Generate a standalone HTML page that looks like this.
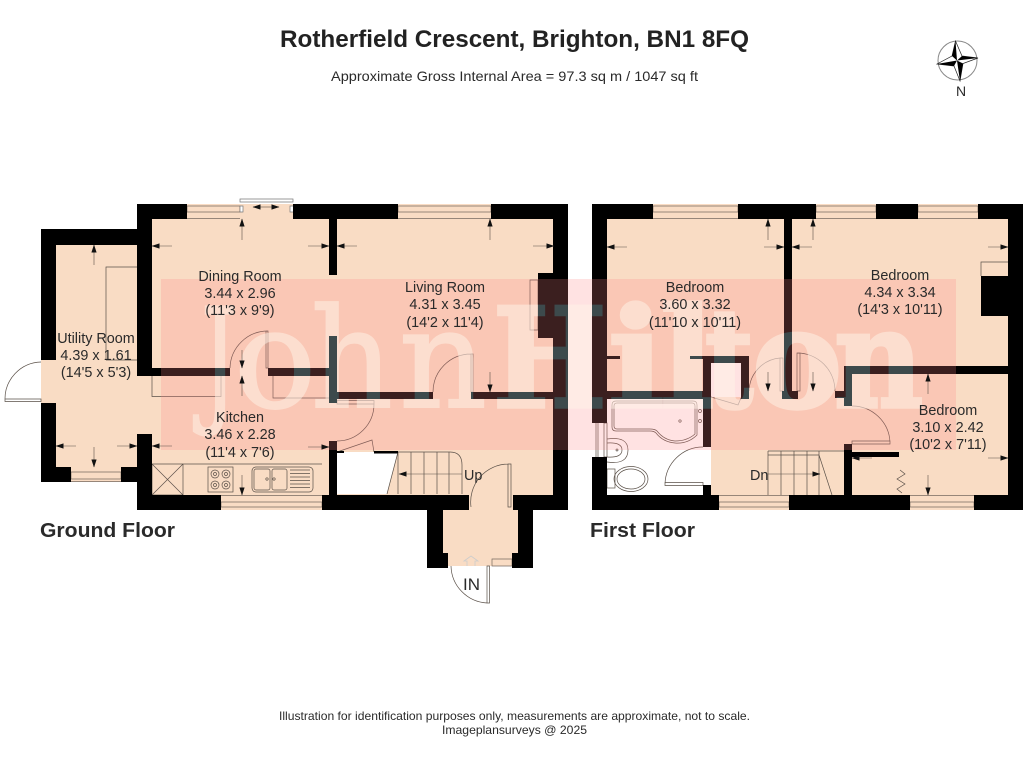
<!DOCTYPE html>
<html><head><meta charset="utf-8"><style>html,body{margin:0;padding:0;background:#fff}svg{display:block}text{font-family:"Liberation Sans",sans-serif;fill:#2a2a2a}.l{font-size:14.4px;text-anchor:middle}.t{fill:none;stroke:#5a5048;stroke-width:.7}.d{stroke:#5a5048;stroke-width:.6;fill:none;marker-end:url(#a)}.w{fill:#f9dcc4;stroke:#776a60;stroke-width:.7}.m text{font-family:"DejaVu Serif",serif;font-size:138px;fill:inherit;stroke:inherit}</style></head><body>
<svg width="1024" height="768" viewBox="0 0 1024 768" xmlns="http://www.w3.org/2000/svg">
<defs><marker id="a" markerWidth="8" markerHeight="6" refX="7.5" refY="3" orient="auto" markerUnits="userSpaceOnUse"><path d="M0 .4L8 3L0 5.6z" fill="#111"/></marker></defs>
<rect width="1024" height="768" fill="#fff"/>
<!-- floors -->
<g fill="#f9dcc4"><rect x="41" y="229" width="111" height="253"/><rect x="137" y="204" width="431" height="306"/><rect x="427" y="510" width="106" height="56"/><rect x="592" y="204" width="431" height="306"/></g>
<g fill="#fff"><path d="M337 452H398L387 494H337z"/><rect x="607" y="399" width="96" height="96"/><rect x="703" y="447" width="8" height="48"/><rect x="711" y="363" width="30" height="34"/><rect x="592" y="423" width="15" height="34"/></g>
<!-- fixtures -->
<g class="t">
<path d="M106 360V267H137M106 360H137"/><path d="M152 376V396.500H221V376M273 376V398H329"/>
<path d="M41 362A37 37 0 0 0 5 400M5 399H41V401.500H5z"/>
<path d="M268 331A38 38 0 0 0 230 368M266 331H268V368H266z"/>
<path d="M337 400.500H374V404H337zM374 404A37 37 0 0 1 337 441"/>
<path d="M471 354A38 38 0 0 0 433 392M471 354H473V392H471z"/>
<path d="M508 464A38 38 0 0 0 471 507M508 464H511V507H508z"/>
<path d="M451 566A38 38 0 0 0 487 603M487 566H489.500V603H487z"/>
<path d="M530 280H538V330H530z"/>
<path d="M337 452L372 440L374 452"/>
<path d="M398 452H450Q462 452 462 465V494M398 452V494M411 452V494M424 452V494M437 452V494M449 452V494M398 452L387 494"/>
<path d="M152 464H322M152 464H183V495H152zM152 464L183 495M183 464L152 495"/>
<rect x="208" y="467" width="25" height="25"/><circle cx="215" cy="474" r="4"/><circle cx="226" cy="474" r="4"/><circle cx="215" cy="485" r="4"/><circle cx="226" cy="485" r="4"/>
<circle cx="215" cy="474" r="1.500"/><circle cx="226" cy="474" r="1.500"/><circle cx="215" cy="485" r="1.500"/><circle cx="226" cy="485" r="1.500"/>
<rect x="252" y="467" width="61" height="25" rx="4"/><rect x="254" y="469" width="16" height="21" rx="2"/><rect x="272" y="469" width="15" height="21" rx="2"/>
<path d="M290 470H310M290 473.500H310M290 477H310M290 480.500H310M290 484H310M290 487.500H310"/>
<circle cx="267" cy="479" r="1.200"/><circle cx="274" cy="479" r="1.200"/>
<path d="M612 405Q612 401 616 401H693Q697 401 697 405V435Q688 444 675 443Q663 442 656 433Q654 431 650 431H616Q612 431 612 427z"/>
<path d="M614 406Q614 403 617 403H692Q695 403 695 406V434Q687 441 675 441Q664 440 657 431Q655 429 650 429H617Q614 429 614 426z"/>
<circle cx="700" cy="411" r="1.500"/><circle cx="700" cy="421" r="1.500"/><circle cx="680" cy="421" r="1.200"/>
<path d="M607 439Q628 436 628 450Q628 465 607 462"/><path d="M607 443Q622 442 622 450Q622 458 607 457"/><circle cx="617" cy="450" r="1"/>
<rect x="607" y="469" width="8" height="19"/><ellipse cx="631" cy="479" rx="17" ry="12.500"/><ellipse cx="631" cy="479" rx="14" ry="10"/>
<path d="M665 484A38 38 0 0 1 703 447M665 482.500H703V485.500H665z"/>
<path d="M711 397L738 405L741 398"/>
<path d="M780 358A34 34 0 0 0 749 391M780 358H783V391H780z"/>
<path d="M797 353A38 38 0 0 1 835 391M797 353H800V391H797z"/>
<path d="M852 406A38 38 0 0 1 890 442M852 441H890V444H852z"/>
<path d="M768 451H844M768 455H819L832 495M768 451V495M781 451V495M794 451V495M807 451V495M819 451V495"/>
<path d="M981 276V262H1008M900 470L905 474L897 479L905 484L897 489L902 493"/>
<path d="M604 423H607V457H604zM596 423V457M598 423V457"/>
</g>
<!-- windows -->
<g class="w">
<path d="M187 206H240V212H187zM187 218.500H240"/><path d="M398 206H491V212H398zM398 218.500H491"/>
<path d="M71 472H121V479H71zM71 481.500H121"/><path d="M221 502H322V507H221zM221 495.500H322"/>
<path d="M653 206H738V212H653zM653 218.500H738"/><path d="M816 206H876V212H816zM816 218.500H876"/><path d="M918 206H978V212H918zM918 218.500H978"/>
<path d="M719 502H789V507H719zM719 495.500H789"/><path d="M910 502H974V507H910zM910 495.500H974"/>
<path d="M492 559H512V566H492z"/>
</g>
<path d="M240 199H293V202H240z" fill="#fff" stroke="#777" stroke-width=".7"/>
<path d="M240 206H243V212H240zM290 206H294V212H290z" fill="#fff" stroke="#777" stroke-width=".7"/>
<!-- pink panel over floors -->
<rect x="161" y="279" width="795" height="171" fill="#ff8787" fill-opacity=".24"/>
<!-- lettering (light) -->
<g class="m" fill="#fff4e8" stroke="#fff4e8" stroke-width="2" opacity=".52">
<text transform="translate(201 407) scale(.65 1)">J</text>
<text transform="translate(234 407) scale(.99 1)">o</text>
<text transform="translate(311 407) scale(.92 1)">h</text>
<text transform="translate(399 407) scale(.99 1)">n</text>
<g stroke-width="3.500" style="font-weight:700">
<text transform="translate(493 407) scale(.87 1)">H</text>
<text transform="translate(608 407) scale(1.080 1)">i</text>
<text transform="translate(660 407) scale(1.040 1)">l</text>
<text transform="translate(705 407) scale(.76 1)">t</text>
<text transform="translate(752 407) scale(.98 1)">o</text>
<text transform="translate(834 407) scale(.89 1)">n</text>
</g></g>
<!-- walls -->
<g fill="#000">
<rect x="41" y="229" width="96" height="16"/><rect x="41" y="229" width="15" height="131"/>
<rect x="137" y="204" width="50" height="15"/><rect x="137" y="204" width="15" height="172"/><rect x="137" y="368" width="93" height="8"/>
<rect x="41" y="403" width="15" height="79"/><rect x="41" y="467" width="30" height="15"/><rect x="121" y="467" width="16" height="15"/>
<rect x="137" y="434" width="15" height="76"/><rect x="137" y="495" width="84" height="15"/>
<rect x="293" y="204" width="105" height="15"/><rect x="329" y="219" width="8" height="56"/><rect x="491" y="204" width="77" height="15"/>
<rect x="553" y="204" width="15" height="306"/><rect x="538" y="273" width="16" height="65"/>
<rect x="268" y="368" width="61" height="8"/><rect x="329" y="336" width="8" height="67"/><rect x="337" y="392" width="96" height="7"/><rect x="471" y="392" width="83" height="7"/>
<rect x="329" y="441" width="8" height="54"/><rect x="322" y="495" width="147" height="15"/><rect x="513" y="495" width="55" height="15"/>
<rect x="427" y="510" width="16" height="58"/><rect x="427" y="553" width="21" height="15"/><rect x="518" y="510" width="15" height="58"/><rect x="512" y="553" width="21" height="15"/>
<rect x="337" y="451" width="7" height="2"/><rect x="374" y="451" width="24" height="2.500"/>
<rect x="592" y="204" width="61" height="15"/><rect x="592" y="204" width="15" height="219"/><rect x="592" y="457" width="15" height="53"/><rect x="592" y="495" width="127" height="15"/>
<rect x="738" y="204" width="78" height="15"/><rect x="784" y="219" width="8" height="172"/><rect x="782" y="391" width="16" height="8"/>
<rect x="876" y="204" width="42" height="15"/><rect x="978" y="204" width="45" height="15"/><rect x="1008" y="204" width="15" height="306"/><rect x="981" y="276" width="27" height="40"/>
<rect x="607" y="391" width="96" height="8"/><rect x="703" y="356" width="8" height="91"/><rect x="703" y="485" width="8" height="10"/>
<rect x="703" y="356" width="46" height="7"/><rect x="690" y="356" width="13" height="3"/><rect x="741" y="356" width="8" height="43"/><rect x="607" y="356" width="13" height="3"/>
<rect x="844" y="366" width="164" height="8"/><rect x="844" y="366" width="8" height="40"/><rect x="835" y="391" width="9" height="7"/>
<rect x="844" y="444" width="8" height="51"/><rect x="852" y="452" width="47" height="5"/><rect x="789" y="495" width="121" height="15"/><rect x="974" y="495" width="49" height="15"/>
</g>
<!-- tint on walls only -->
<rect x="161" y="279" width="795" height="171" fill="#3b1f1f" style="mix-blend-mode:lighten"/>
<g class="m" fill="#3d4a4c" stroke="#3d4a4c" stroke-width="2" style="mix-blend-mode:lighten">
<text transform="translate(201 407) scale(.65 1)">J</text>
<text transform="translate(234 407) scale(.99 1)">o</text>
<text transform="translate(311 407) scale(.92 1)">h</text>
<text transform="translate(399 407) scale(.99 1)">n</text>
<g stroke-width="3.500" style="font-weight:700">
<text transform="translate(493 407) scale(.87 1)">H</text>
<text transform="translate(608 407) scale(1.080 1)">i</text>
<text transform="translate(660 407) scale(1.040 1)">l</text>
<text transform="translate(705 407) scale(.76 1)">t</text>
<text transform="translate(752 407) scale(.98 1)">o</text>
<text transform="translate(834 407) scale(.89 1)">n</text>
</g></g>
<!-- dimension arrows -->
<g>
<path class="d" d="M94 265V245"/><path class="d" d="M94 447V467"/><path class="d" d="M76 446H56"/><path class="d" d="M117 446H137"/>
<path class="d" d="M242 240V219"/><path class="d" d="M172 246H152"/><path class="d" d="M308 246H329"/><path class="d" d="M242 350V368"/>
<path class="d" d="M242 396V376"/><path class="d" d="M172 446H152"/><path class="d" d="M308 447H329"/><path class="d" d="M242 475V495"/>
<path class="d" d="M490 240V219"/><path class="d" d="M357 246H337"/><path class="d" d="M533 246H554"/><path class="d" d="M490 372V392"/>
<path class="d" d="M462 474H399"/>
<path class="d" d="M627 247H607"/><path class="d" d="M764 247H784"/><path class="d" d="M768 240V219"/><path class="d" d="M768 372V391"/>
<path class="d" d="M812 247H792"/><path class="d" d="M813 240V219"/><path class="d" d="M988 247H1008"/><path class="d" d="M813 372V391"/>
<path class="d" d="M928 394V374"/><path class="d" d="M872 458H852"/><path class="d" d="M988 458H1008"/><path class="d" d="M928 475V495"/>
<path class="d" d="M768 474H820"/>
<path class="d" d="M266 207H253"/><path class="d" d="M266 207H279"/>
<path d="M467 566V561H464L471 556L478 561H475V566" fill="none" stroke="#ccc" stroke-width=".8"/>
</g>
<!-- labels -->
<g>
<text class="l" x="240" y="281">Dining Room</text><text class="l" x="240" y="298">3.44 x 2.96</text><text class="l" x="240" y="315">(11'3 x 9'9)</text>
<text class="l" x="96" y="343">Utility Room</text><text class="l" x="96" y="360">4.39 x 1.61</text><text class="l" x="96" y="377">(14'5 x 5'3)</text>
<text class="l" x="240" y="422">Kitchen</text><text class="l" x="240" y="439">3.46 x 2.28</text><text class="l" x="240" y="457">(11'4 x 7'6)</text>
<text class="l" x="445" y="292">Living Room</text><text class="l" x="445" y="309">4.31 x 3.45</text><text class="l" x="445" y="327">(14'2 x 11'4)</text>
<text class="l" x="695" y="292">Bedroom</text><text class="l" x="695" y="309">3.60 x 3.32</text><text class="l" x="695" y="327">(11'10 x 10'11)</text>
<text class="l" x="900" y="280">Bedroom</text><text class="l" x="900" y="297">4.34 x 3.34</text><text class="l" x="900" y="314">(14'3 x 10'11)</text>
<text class="l" x="948" y="415">Bedroom</text><text class="l" x="948" y="432">3.10 x 2.42</text><text class="l" x="948" y="449">(10'2 x 7'11)</text>
</g>
<text x="464" y="480" font-size="14.400">Up</text><text x="750" y="480" font-size="14.400">Dn</text>
<text x="463" y="590" font-size="17">IN</text>
<text x="280" y="47" font-size="24" font-weight="700" textLength="469" lengthAdjust="spacingAndGlyphs" style="fill:#222">Rotherfield Crescent, Brighton, BN1 8FQ</text>
<text x="331" y="81" font-size="14" textLength="367" lengthAdjust="spacingAndGlyphs">Approximate Gross Internal Area = 97.3 sq m / 1047 sq ft</text>
<text x="40" y="537" font-size="20" font-weight="700" textLength="135" lengthAdjust="spacingAndGlyphs">Ground Floor</text>
<text x="590" y="537" font-size="20" font-weight="700" textLength="105" lengthAdjust="spacingAndGlyphs">First Floor</text>
<text x="279" y="720" font-size="12" textLength="471" lengthAdjust="spacingAndGlyphs">Illustration for identification purposes only, measurements are approximate, not to scale.</text>
<text x="442" y="734" font-size="12" textLength="145" lengthAdjust="spacingAndGlyphs">Imageplansurveys @ 2025</text>
<!-- compass -->
<circle cx="957.500" cy="60.500" r="19.500" fill="#fff" stroke="#888" stroke-width="1"/>
<path d="M955.500 41L962 56L978 58L963 63.500L960 81L954 66L937 64L952 56z" fill="#fff" stroke="#222" stroke-width=".7"/>
<path d="M955.500 41L952 56L957 60.500zM978 58L962 56L957 60.500zM960 81L963 63.500L957 60.500zM937 64L954 66L957 60.500z" fill="#000"/>
<text x="956" y="96" font-size="14">N</text>
</svg>
</body></html>
